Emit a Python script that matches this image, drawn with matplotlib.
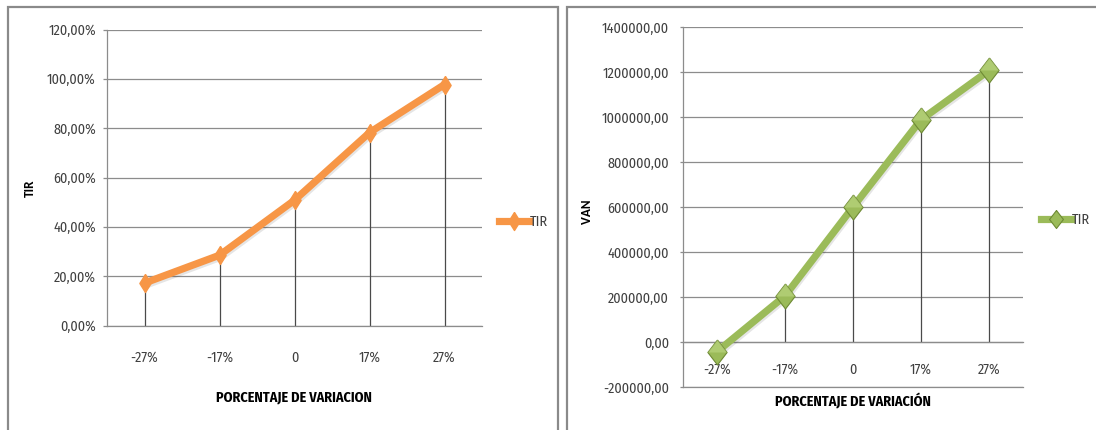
import matplotlib
matplotlib.use("Agg")
import matplotlib.pyplot as plt
from matplotlib import font_manager
from matplotlib.lines import Line2D
from matplotlib.patches import Rectangle
from matplotlib.ticker import FuncFormatter
import matplotlib.patheffects as pe

# ---- data ----
categories = ["-27%", "-17%", "0", "17%", "27%"]
tir_values = [0.172, 0.285, 0.508, 0.782, 0.977]
van_values = [-43000, 205000, 600000, 988000, 1207000]
tir_ticks = [0.0, 0.2, 0.4, 0.6, 0.8, 1.0, 1.2]
van_ticks = [-200000, 0, 200000, 400000, 600000, 800000, 1000000, 1200000, 1400000]
series_name = "TIR"
left_ylabel = "TIR"
right_ylabel = "VAN"
left_xlabel = "PORCENTAJE DE VARIACION"
right_xlabel = "PORCENTAJE DE VARIACIÓN"

ORANGE = "#F79646"
GREEN = "#9BBB59"
GREEN_DARK = "#6E8A34"
GREEN_LIGHT = "#C4DD8C"
GRID = "#8C8C8C"
DROP = "#4A4A4A"
TXT = "#404040"

names = {f.name for f in font_manager.fontManager.ttflist}
NARROW = "DejaVu Sans"
for cand in ["Fira Sans Condensed", "Liberation Sans Narrow", "Encode Sans Semi Condensed", "Archivo Narrow"]:
    if cand in names:
        NARROW = cand
        break
NARROW_FAM = [NARROW, "DejaVu Sans"]
BOLDF = ["Carlito", "Liberation Sans", "DejaVu Sans"]
TS = 10.2

W, H = 1096, 430
fig = plt.figure(figsize=(W / 100, H / 100), dpi=100)


def frac(x0, y0, x1, y1):
    return [x0 / W, 1 - y1 / H, (x1 - x0) / W, (y1 - y0) / H]


# chart frames
fig.add_artist(Rectangle((8 / W, -0.1), (558 - 8) / W, 1.1 - 7 / H, transform=fig.transFigure,
                         fill=False, edgecolor="#8A8A8A", lw=1.6))
fig.add_artist(Rectangle((567 / W, -0.1), 0.6, 1.1 - 7 / H, transform=fig.transFigure,
                         fill=False, edgecolor="#8A8A8A", lw=1.6))

thin_diamond = [(0, 1.6), (1, 0), (0, -1.6), (-1, 0), (0, 1.6)]
tall_diamond = [(0, 1.3), (1, 0), (0, -1.3), (-1, 0), (0, 1.3)]
top_half = [(0, 1.3), (1, 0), (-1, 0), (0, 1.3)]

shadow = [pe.SimpleLineShadow(offset=(0.8, -1.5), shadow_color="black", alpha=0.10), pe.Normal()]


def style_axes(ax):
    for s in ["top", "right"]:
        ax.spines[s].set_visible(False)
    for s in ["left", "bottom"]:
        ax.spines[s].set_color(GRID)
        ax.spines[s].set_linewidth(0.9)
    ax.yaxis.grid(True, color=GRID, lw=0.9)
    ax.xaxis.grid(False)
    ax.set_axisbelow(True)
    for lab in ax.get_xticklabels() + ax.get_yticklabels():
        lab.set_fontfamily(NARROW_FAM)
        lab.set_fontsize(TS)
        lab.set_color(TXT)


x = list(range(len(categories)))

# ---------------- left chart (TIR) ----------------
ax1 = fig.add_axes(frac(107, 29.5, 482, 325.5))
ax1.set_xlim(-0.5, len(categories) - 0.5)
ax1.set_ylim(tir_ticks[0], tir_ticks[-1])
ax1.set_yticks(tir_ticks)
ax1.yaxis.set_major_formatter(FuncFormatter(lambda v, p: f"{v*100:.2f}%".replace(".", ",")))
ax1.set_xticks(x)
ax1.set_xticklabels(categories)
ax1.tick_params(axis="x", length=0, pad=18)
ax1.tick_params(axis="y", length=3, color=GRID, width=0.9, pad=5)
style_axes(ax1)
ax1.vlines(x, 0, tir_values, colors=DROP, lw=0.9, zorder=2)
ax1.plot(x, tir_values, color=ORANGE, lw=5.2, solid_capstyle="round", zorder=3, path_effects=shadow)
ax1.plot(x, tir_values, ls="none", marker=thin_diamond, ms=13, mfc=ORANGE, mec=ORANGE, zorder=4)
ax1.set_ylabel(left_ylabel, fontfamily=BOLDF, fontweight="bold", fontsize=9.5, color="black")
ax1.yaxis.set_label_coords(36 / W, 1 - 188 / H, transform=fig.transFigure)
ax1.set_xlabel(left_xlabel, fontfamily=NARROW_FAM, fontweight="bold", fontsize=TS, color="black")
ax1.xaxis.set_label_coords(294 / W, 1 - 397 / H, transform=fig.transFigure)
ax1.xaxis.label.set_va("center")

h1 = Line2D([], [], color=ORANGE, lw=5.2, marker=thin_diamond, ms=13, mfc=ORANGE, mec=ORANGE)
leg1 = fig.legend([h1], [series_name], loc="center left", bbox_to_anchor=(499 / W, 1 - 222 / H),
                  frameon=False, handlelength=2.1, handletextpad=0.1, borderpad=0, borderaxespad=0,
                  prop={"family": NARROW_FAM, "size": TS})
for t in leg1.get_texts():
    t.set_color(TXT)

# ---------------- right chart (VAN) ----------------
ax2 = fig.add_axes(frac(683, 27, 1023, 387))
ax2.set_xlim(-0.5, len(categories) - 0.5)
ax2.set_ylim(van_ticks[0], van_ticks[-1])
ax2.set_yticks(van_ticks)
ax2.yaxis.set_major_formatter(FuncFormatter(lambda v, p: f"{v:.2f}".replace(".", ",")))
ax2.set_xticks(x)
ax2.set_xticklabels(categories)
ax2.spines["bottom"].set_position(("data", 0))
ax2.tick_params(axis="x", length=0, pad=15)
ax2.tick_params(axis="y", length=2, color=GRID, width=0.9, pad=8)
style_axes(ax2)
ax2.axhline(van_ticks[0], color=GRID, lw=0.9, clip_on=False, zorder=1)
ax2.vlines(x, 0, van_values, colors=DROP, lw=0.9, zorder=2)
ax2.plot(x, van_values, color=GREEN, lw=5.2, solid_capstyle="round", zorder=3, path_effects=shadow)
ax2.plot(x, van_values, ls="none", marker=tall_diamond, ms=18, mfc=GREEN, mec=GREEN_DARK, mew=0.8, zorder=4)
ax2.plot(x, van_values, ls="none", marker=top_half, ms=18, mfc=GREEN_LIGHT, mec="none", alpha=0.5, zorder=5)
ax2.set_ylabel(right_ylabel, fontfamily=BOLDF, fontweight="bold", fontsize=9.5, color="black")
ax2.yaxis.set_label_coords(593 / W, 1 - 212 / H, transform=fig.transFigure)
ax2.set_xlabel(right_xlabel, fontfamily=NARROW_FAM, fontweight="bold", fontsize=TS, color="black")
ax2.xaxis.set_label_coords(853 / W, 1 - 401 / H, transform=fig.transFigure)
ax2.xaxis.label.set_va("center")

h2 = Line2D([], [], color=GREEN, lw=5.2, marker=tall_diamond, ms=13, mfc=GREEN, mec=GREEN_DARK, mew=0.8)
leg2 = fig.legend([h2], [series_name], loc="center left", bbox_to_anchor=(1041 / W, 1 - 220 / H),
                  frameon=False, handlelength=2.1, handletextpad=0.1, borderpad=0, borderaxespad=0,
                  prop={"family": NARROW_FAM, "size": TS})
for t in leg2.get_texts():
    t.set_color(TXT)

fig.savefig("out.png", dpi=100)
